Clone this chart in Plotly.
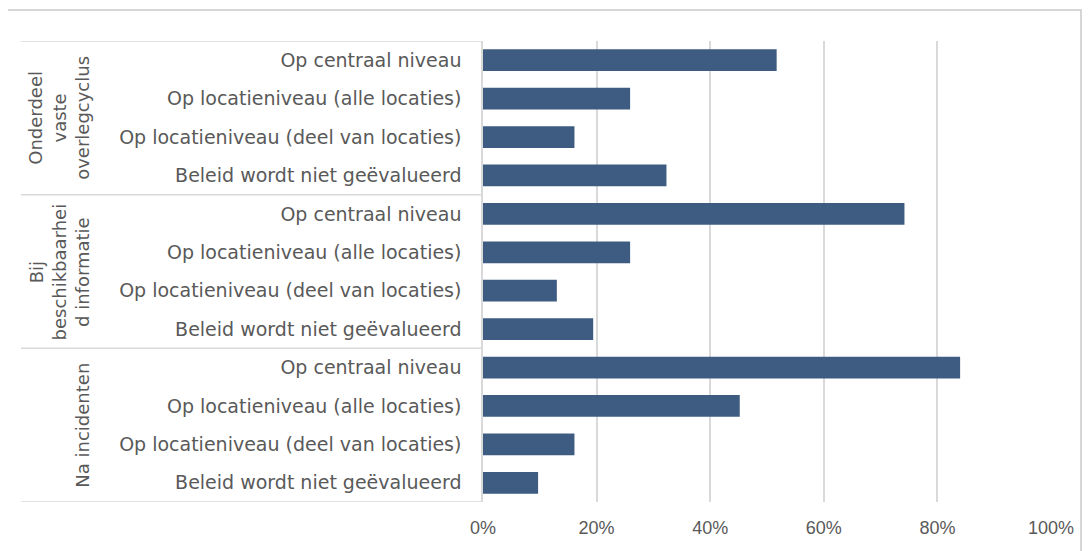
import plotly.graph_objects as go

groups = ["Onderdeel<br>vaste<br>overlegcyclus", "Bij<br>beschikbaarhei<br>d informatie", "Na incidenten"]
items = ["Op centraal niveau", "Op locatieniveau (alle locaties)",
         "Op locatieniveau (deel van locaties)", "Beleid wordt niet geëvalueerd"]
vals_overleg = [0.517, 0.259, 0.161, 0.323]
vals_info = [0.742, 0.259, 0.130, 0.194]
vals_incident = [0.840, 0.452, 0.161, 0.097]
x_ticks = [0, 0.2, 0.4, 0.6, 0.8, 1.0]
x_ticklabels = ["0%", "20%", "40%", "60%", "80%", "100%"]

all_vals = vals_overleg + vals_info + vals_incident
labels = items * 3
ypos = list(range(len(all_vals)))

OFF = 8  # default page body margin
W, H = 1091 - OFF, 551 - OFF
# plot area in reference page coordinates
PL, PR, PT, PB = 483, 1051, 41, 502
L, T = PL - OFF, PT - OFF
R, B = W - (PR - OFF), H - (PB - OFF)
pw, ph = PR - PL, PB - PT

def px_x(p):
    return (p - PL) / pw

def px_y(p):
    return 1 - (p - PT) / ph

TXT = "#595959"
LBL_FONT = "DejaVu Sans"

fig = go.Figure(go.Bar(
    x=all_vals, y=ypos, orientation="h",
    marker=dict(color="#3e5c82", line=dict(width=0)),
    width=0.565, hoverinfo="x+y",
))

shapes = []
n = len(items)
for k in range(len(groups) + 1):
    yb = k * n - 0.5
    shapes.append(dict(type="line", xref="paper", yref="y", x0=px_x(21), x1=0,
                       y0=yb, y1=yb, line=dict(color="#d9d9d9", width=1.5)))
shapes.append(dict(type="rect", xref="paper", yref="paper", x0=px_x(7), x1=px_x(1081),
                   y0=px_y(620), y1=px_y(10), line=dict(color="#c9c9c9", width=1.5),
                   layer="below"))

annotations = []
for g, name in enumerate(groups):
    yc = g * n + (n - 1) / 2
    annotations.append(dict(text=name, xref="paper", yref="y", x=px_x(95), y=yc,
                            xanchor="right", yanchor="middle", textangle=-90,
                            showarrow=False, align="center",
                            font=dict(size=18, color=TXT, family=LBL_FONT)))

fig.update_layout(
    width=W, height=H,
    margin=dict(l=L, r=R, t=T, b=B, autoexpand=False),
    paper_bgcolor="white", plot_bgcolor="white",
    showlegend=False,
    font=dict(family=LBL_FONT, size=18, color=TXT),
    xaxis=dict(range=[0, 1.0], tickvals=x_ticks, ticktext=x_ticklabels,
               showgrid=True, gridcolor="#d9d9d9", gridwidth=1.5,
               zeroline=False, showline=False, ticks="", ticklabelstandoff=13,
               tickfont=dict(family="Liberation Sans Narrow, Arial Narrow, Liberation Sans",
                             size=18, color=TXT),
               fixedrange=True),
    yaxis=dict(range=[len(all_vals) - 0.5, -0.5], tickvals=ypos, ticktext=labels,
               showgrid=False, zeroline=False, showline=True, linecolor="#d9d9d9",
               linewidth=1.5, ticks="", ticklabelstandoff=16, fixedrange=True,
               tickfont=dict(family=LBL_FONT, size=19, color=TXT)),
    shapes=shapes, annotations=annotations,
)

fig.write_html("out.html")
